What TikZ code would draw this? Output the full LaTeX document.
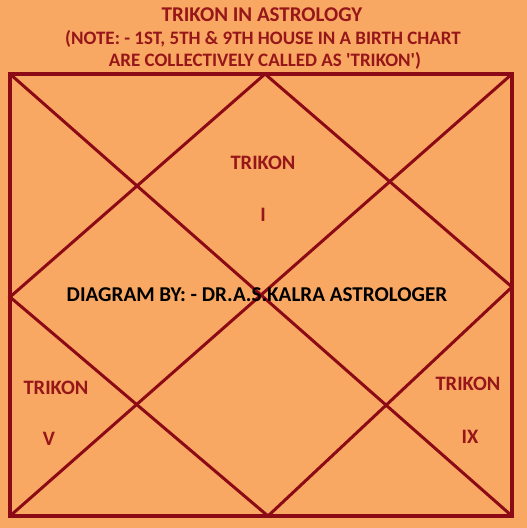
\documentclass[tikz,border=0pt]{standalone}
\usepackage{fontspec}
\setmainfont{Carlito}[Ligatures=TeXOff]
\definecolor{bg}{RGB}{248,168,98}
\definecolor{ln}{RGB}{139,10,22}
\definecolor{tx}{RGB}{150,22,26}
\begin{document}
\begin{tikzpicture}[x=1pt,y=-1pt,
  chartline/.style={draw=ln,line width=3pt},
  lbl/.style={font=\bfseries\fontsize{20.5}{24}\selectfont,text=tx,inner sep=0pt,anchor=center},
  ttl/.style={font=\bfseries\fontsize{21}{24}\selectfont,text=tx,inner sep=0pt,anchor=center},
  note/.style={font=\bfseries\fontsize{19}{24}\selectfont,text=tx,inner sep=0pt,anchor=center}]
\fill[bg] (0,0) rectangle (527,528);
\useasboundingbox (0,0) rectangle (527,528);
\coordinate (tl) at (10,74);
\coordinate (tr) at (512,74);
\coordinate (br) at (512,516);
\coordinate (bl) at (10,516);
\coordinate (mt) at (265,74);
\coordinate (mr) at (512,287);
\coordinate (mb) at (268,516);
\coordinate (ml) at (10,297);
\draw[chartline,line width=3.5pt] (tl) -- (tr) -- (br) -- (bl) -- cycle;
\draw[chartline] (tl) -- (br);
\draw[chartline] (tr) -- (bl);
\draw[chartline,line join=miter] (mt) -- (mr) -- (mb) -- (ml) -- cycle;
\node[ttl] (t1) at (262,15) {TRIKON IN ASTROLOGY};
\node[note] (t2) at (263,39) {(NOTE: - 1ST, 5TH \& 9TH HOUSE IN A BIRTH CHART};
\node[note] (t3) at (265,61) {ARE COLLECTIVELY CALLED AS 'TRIKON')};
\node[lbl] (k1) at (263,163) {TRIKON};
\node[lbl] (n1) at (263,215) {I};
\node[lbl,text=black,font=\bfseries\fontsize{21.1}{24}\selectfont] (by) at (257,295) {DIAGRAM BY: - DR.A.S.KALRA ASTROLOGER};
\node[lbl] (k5) at (56,388) {TRIKON};
\node[lbl] (n5) at (49,439) {V};
\node[lbl] (k9) at (468,384) {TRIKON};
\node[lbl] (n9) at (470,437) {IX};
\end{tikzpicture}
\end{document}
